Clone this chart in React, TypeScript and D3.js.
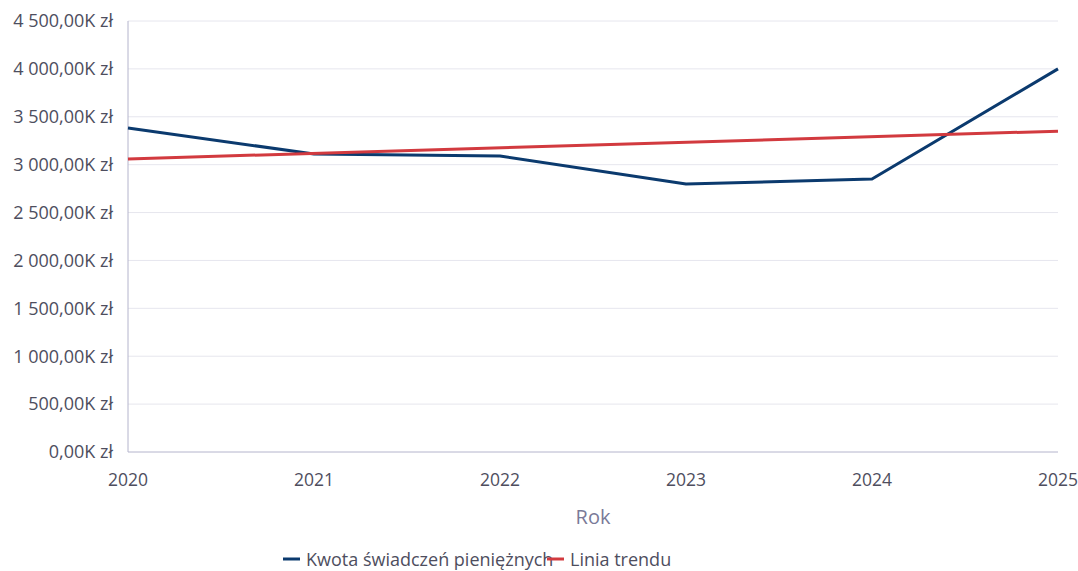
import React, { useEffect, useRef } from "react";
import * as d3 from "d3";

const years = ["2020", "2021", "2022", "2023", "2024", "2025"];
const amounts = [3383, 3111, 3090, 2798, 2850, 4000];
// trend line endpoints (2020, 2025)
const trendYears = ["2020", "2025"];
const trendValues = [3060, 3350];
const yTicks = [0, 500, 1000, 1500, 2000, 2500, 3000, 3500, 4000, 4500];

const fmt = (v: number) => {
  const [int, dec] = v.toFixed(2).split(".");
  const grouped = int.replace(/\B(?=(\d{3})+(?!\d))/g, " ");
  return `${grouped},${dec}K zł`;
};

const App: React.FC = () => {
  const ref = useRef<SVGSVGElement | null>(null);

  useEffect(() => {
    if (!ref.current) return;
    const svg = d3.select(ref.current);
    svg.selectAll("*").remove();

    const width = 1078;
    const height = 571;
    const margin = { top: 21, right: 20, bottom: 119, left: 128 };
    const innerWidth = width - margin.left - margin.right;
    const innerHeight = height - margin.top - margin.bottom;
    const font = "'Open Sans', sans-serif";
    const textColor = "#4e4e5e";

    const x = d3.scalePoint<string>().domain(years).range([0, innerWidth]);
    const y = d3.scaleLinear().domain([0, 4500]).range([innerHeight, 0]);

    const g = svg.append("g").attr("transform", `translate(${margin.left},${margin.top})`);

    // grid
    g.selectAll(".grid")
      .data(yTicks.filter(t => t > 0))
      .enter()
      .append("line")
      .attr("x1", 0)
      .attr("x2", innerWidth)
      .attr("y1", d => y(d))
      .attr("y2", d => y(d))
      .attr("stroke", "#e6e6ee")
      .attr("stroke-width", 1);

    // axis lines
    g.append("line")
      .attr("x1", 0).attr("x2", innerWidth)
      .attr("y1", y(0)).attr("y2", y(0))
      .attr("stroke", "#b4b4cc");
    g.append("line")
      .attr("x1", 0).attr("x2", 0)
      .attr("y1", y(4500)).attr("y2", y(0))
      .attr("stroke", "#b4b4cc");

    // y labels
    g.selectAll(".ylab")
      .data(yTicks)
      .enter()
      .append("text")
      .attr("x", -15)
      .attr("y", d => y(d))
      .attr("dy", "0.35em")
      .attr("text-anchor", "end")
      .attr("font-family", font)
      .attr("font-size", 18)
      .attr("fill", textColor)
      .text(d => fmt(d));

    // x labels
    g.selectAll(".xlab")
      .data(years)
      .enter()
      .append("text")
      .attr("x", d => x(d) as number)
      .attr("y", innerHeight + 34)
      .attr("text-anchor", "middle")
      .attr("font-family", font)
      .attr("font-size", 17.5)
      .attr("fill", textColor)
      .text(d => d);

    g.append("text")
      .attr("x", innerWidth / 2)
      .attr("y", innerHeight + 72)
      .attr("text-anchor", "middle")
      .attr("font-family", font)
      .attr("font-size", 20)
      .attr("fill", "#7a7a98")
      .text("Rok");

    const line = d3.line<[string, number]>()
      .x(d => x(d[0]) as number)
      .y(d => y(d[1]));

    g.append("path")
      .datum(years.map((yr, i) => [yr, amounts[i]] as [string, number]))
      .attr("d", line)
      .attr("fill", "none")
      .attr("stroke", "#0b3a6e")
      .attr("stroke-width", 3)
      .attr("stroke-linejoin", "round");

    g.append("path")
      .datum(trendYears.map((yr, i) => [yr, trendValues[i]] as [string, number]))
      .attr("d", line)
      .attr("fill", "none")
      .attr("stroke", "#d23a3f")
      .attr("stroke-width", 3);

    // legend
    const legend = svg.append("g").attr("font-family", font).attr("font-size", 18).attr("fill", textColor);
    const items = [
      { label: "Kwota świadczeń pieniężnych", color: "#0b3a6e", x: 283, tx: 306 },
      { label: "Linia trendu", color: "#d23a3f", x: 547, tx: 570 }
    ];
    items.forEach(it => {
      legend.append("line")
        .attr("x1", it.x).attr("x2", it.x + 17)
        .attr("y1", 559).attr("y2", 559)
        .attr("stroke", it.color)
        .attr("stroke-width", 3);
      legend.append("text")
        .attr("x", it.tx)
        .attr("y", 560)
        .attr("dy", "0.35em")
        .text(it.label);
    });
  }, []);

  return <svg ref={ref} width={1078} height={571} style={{ display: "block", position: "absolute", left: 0, top: 0 }} />;
};

export default App;
